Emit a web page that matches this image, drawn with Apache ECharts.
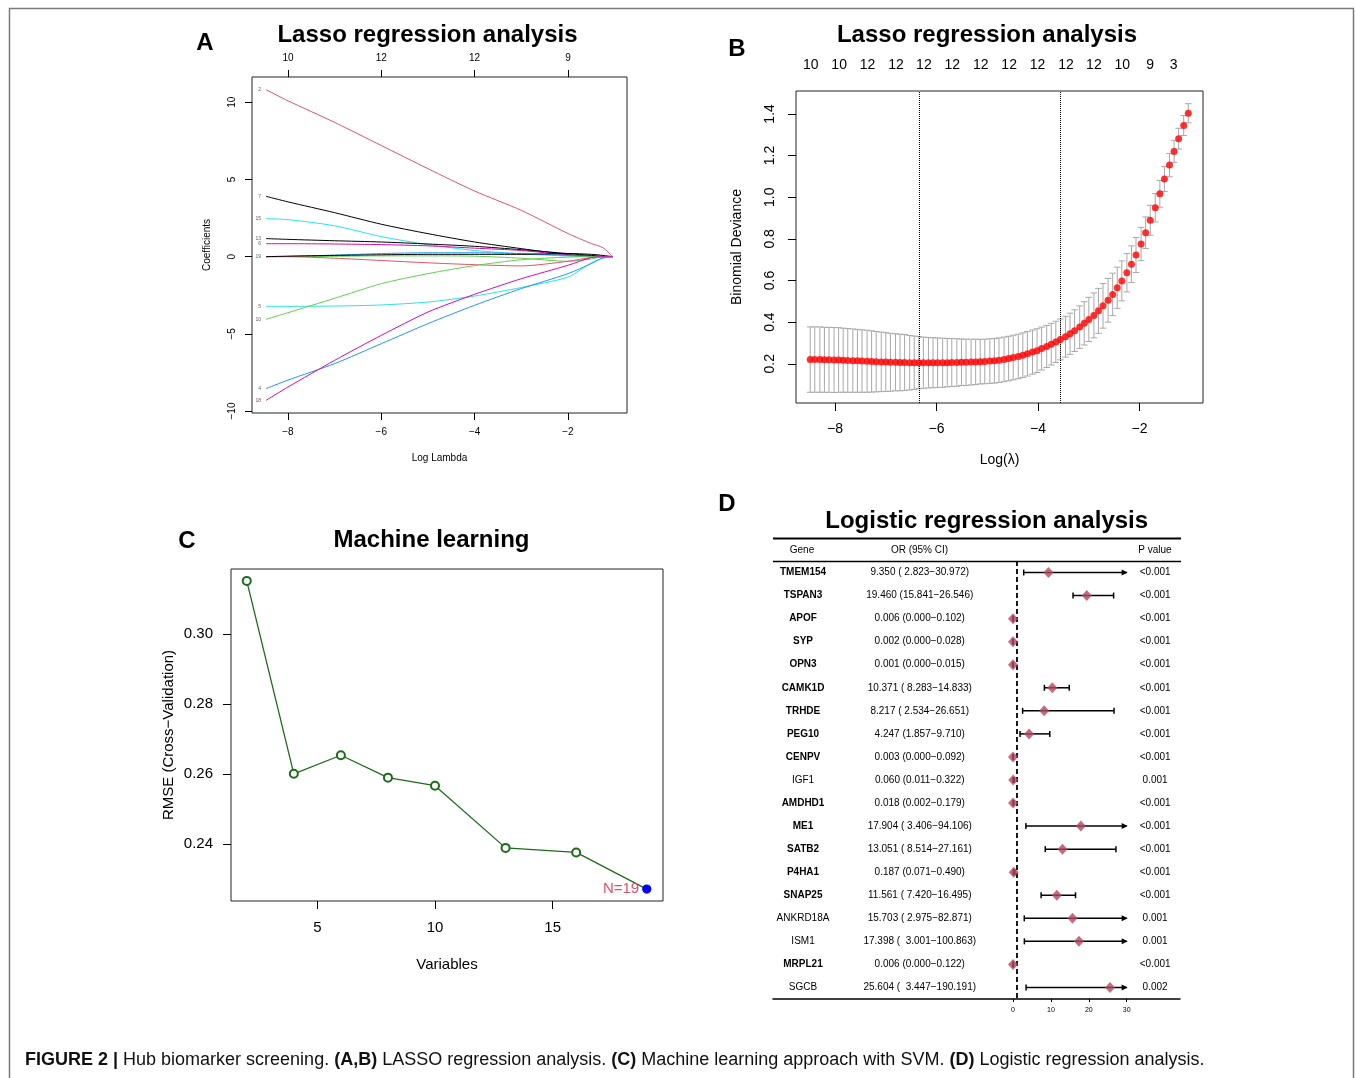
<!DOCTYPE html>
<html><head><meta charset="utf-8">
<script src="https://cdn.jsdelivr.net/npm/echarts@6/dist/echarts.min.js"></script>
<style>html,body{margin:0;padding:0;background:#fff}#c{width:1355px;height:1078px}</style>
</head><body><div id="c"></div>
<script>
// ---------- Panel A : lasso coefficient paths ----------
const lassoX   = [-8.47,-8,-7,-6,-5,-4,-3,-2,-1.5,-1.25,-1.04];
const coefV2   = [10.82,10.1,8.7,7.2,5.7,4.25,3.0,1.5,0.85,0.58,0];
const coefV7   = [3.91,3.55,2.85,2.1,1.49,0.95,0.52,0.13,0.02,0,0];
const coefV15  = [2.46,2.4,2.0,1.3,0.78,0.4,0.18,0.04,0,0,0];
const coefV13  = [1.17,1.12,1.03,0.95,0.82,0.67,0.45,0.2,0.08,0.02,0];
const coefV6   = [0.84,0.84,0.82,0.78,0.7,0.55,0.4,0.1,0,0,0];
const coefV19  = [0,0.03,0.08,0.12,0.15,0.15,0.15,0.2,0.15,0.08,0];
const coefV19b = [0,0.02,0.1,0.2,0.25,0.25,0.2,0.08,0,0,0];
const coefV19c = [0,0,0.02,0.05,0.05,0.03,-0.1,-0.3,-0.15,0,0];
const coefV19d = [0,0,-0.1,-0.25,-0.4,-0.52,-0.6,-0.3,-0.05,0,0];
const coefV5   = [-3.22,-3.22,-3.2,-3.13,-2.94,-2.55,-2.0,-1.32,-0.4,-0.1,0];
const coefV10  = [-4.06,-3.63,-2.7,-1.75,-1.1,-0.58,-0.2,-0.03,0,0,0];
const coefV4   = [-8.55,-8.0,-6.93,-5.64,-4.34,-3.15,-2.07,-1.1,-0.45,-0.07,0];
const coefV18  = [-9.31,-8.45,-6.72,-5.1,-3.59,-2.44,-1.43,-0.56,-0.06,0,0];
const lassoTopPos = [-8,-6,-4,-2];
const lassoTopLab = ['10','12','12','9'];

// ---------- Panel B : cross-validation deviance ----------
const cvLogLambda = [-8.49,-8.40,-8.30,-8.21,-8.12,-8.02,-7.93,-7.84,-7.75,-7.65,-7.56,-7.47,-7.37,-7.28,-7.19,-7.09,-7.00,-6.91,-6.81,-6.72,-6.63,-6.53,-6.44,-6.35,-6.26,-6.16,-6.07,-5.98,-5.88,-5.79,-5.70,-5.60,-5.51,-5.42,-5.32,-5.23,-5.14,-5.05,-4.95,-4.86,-4.77,-4.67,-4.58,-4.49,-4.39,-4.30,-4.21,-4.11,-4.02,-3.93,-3.83,-3.74,-3.65,-3.56,-3.46,-3.37,-3.28,-3.18,-3.09,-3.00,-2.90,-2.81,-2.72,-2.62,-2.53,-2.44,-2.35,-2.25,-2.16,-2.07,-1.97,-1.88,-1.79,-1.69,-1.60,-1.51,-1.41,-1.32,-1.23,-1.13,-1.04];
const cvMean = [0.220,0.220,0.220,0.219,0.219,0.218,0.218,0.217,0.216,0.215,0.214,0.213,0.212,0.211,0.210,0.209,0.208,0.207,0.207,0.206,0.206,0.205,0.205,0.205,0.205,0.205,0.205,0.205,0.205,0.205,0.206,0.206,0.207,0.207,0.208,0.209,0.210,0.211,0.213,0.214,0.217,0.221,0.225,0.230,0.235,0.241,0.248,0.256,0.263,0.273,0.283,0.294,0.305,0.317,0.330,0.344,0.359,0.376,0.394,0.413,0.432,0.454,0.478,0.505,0.533,0.565,0.598,0.637,0.678,0.722,0.775,0.829,0.889,0.949,1.016,1.087,1.154,1.220,1.281,1.344,1.403];
const cvSd = [0.157,0.157,0.157,0.156,0.156,0.156,0.155,0.154,0.153,0.152,0.151,0.150,0.149,0.147,0.145,0.143,0.141,0.139,0.137,0.136,0.134,0.131,0.128,0.125,0.123,0.121,0.120,0.119,0.118,0.116,0.115,0.114,0.112,0.111,0.110,0.109,0.107,0.107,0.107,0.107,0.107,0.107,0.107,0.107,0.107,0.107,0.107,0.106,0.105,0.103,0.101,0.100,0.099,0.098,0.098,0.099,0.100,0.102,0.104,0.106,0.108,0.108,0.107,0.105,0.102,0.099,0.096,0.092,0.088,0.084,0.080,0.076,0.072,0.068,0.064,0.060,0.056,0.053,0.050,0.048,0.046];
const cvLambdaMin = -6.343;
const cvLambda1se = -3.556;
const cvTopPos = [-8.48,-7.92,-7.36,-6.80,-6.25,-5.69,-5.13,-4.57,-4.01,-3.45,-2.90,-2.34,-1.79,-1.33];
const cvTopLab = ['10','10','12','12','12','12','12','12','12','12','12','10','9','3'];

// ---------- Panel C : SVM-RFE ----------
const svmVars = [2,4,6,8,10,13,16,19];
const svmRmse = [0.3153,0.2601,0.2654,0.2590,0.2567,0.2389,0.2376,0.2271];

// ---------- Panel D : logistic regression ----------
const genes = ['TMEM154','TSPAN3','APOF','SYP','OPN3','CAMK1D','TRHDE','PEG10','CENPV','IGF1','AMDHD1','ME1','SATB2','P4HA1','SNAP25','ANKRD18A','ISM1','MRPL21','SGCB'];
const orVal = [9.350,19.460,0.006,0.002,0.001,10.371,8.217,4.247,0.003,0.060,0.018,17.904,13.051,0.187,11.561,15.703,17.398,0.006,25.604];
const ciLo  = [2.823,15.841,0.000,0.000,0.000,8.283,2.534,1.857,0.000,0.011,0.002,3.406,8.514,0.071,7.420,2.975,3.001,0.000,3.447];
const ciHi  = [30.972,26.546,0.102,0.028,0.015,14.833,26.651,9.710,0.092,0.322,0.179,94.106,27.161,0.490,16.495,82.871,100.863,0.122,190.191];
const pVal  = ['<0.001','<0.001','<0.001','<0.001','<0.001','<0.001','<0.001','<0.001','<0.001','0.001','<0.001','<0.001','<0.001','<0.001','<0.001','0.001','0.001','<0.001','0.002'];
const geneBold = [1,1,1,1,1,1,1,1,1,0,1,1,1,1,1,0,0,1,0];
const forestTicks = [0,10,20,30];

// ---------- helpers ----------
const F = '"Liberation Sans", Arial, Helvetica, sans-serif';
const minus = v => (v < 0 ? '\u2212' : '') + Math.abs(v);
function nearestLabel(pos, lab, v){ let b=0; pos.forEach((p,i)=>{ if(Math.abs(p-v)<Math.abs(pos[b]-v)) b=i; }); return lab[b]; }
function orText(i){
  const lo = ciLo[i].toFixed(3), hi = ciHi[i].toFixed(3);
  return orVal[i].toFixed(3) + ' (' + lo.padStart(hi.length,' ') + '\u2212' + hi + ')';
}

const lassoPaths = [
  {lab:'2',  col:'#DF536B', y:coefV2},
  {lab:'7',  col:'#000000', y:coefV7},
  {lab:'15', col:'#28E2E5', y:coefV15},
  {lab:'13', col:'#000000', y:coefV13},
  {lab:'6',  col:'#CD0BBC', y:coefV6},
  {lab:'',   col:'#2297E6', y:coefV19b},
  {lab:'',   col:'#61D04F', y:coefV19c},
  {lab:'',   col:'#DF536B', y:coefV19d},
  {lab:'19', col:'#000000', y:coefV19},
  {lab:'5',  col:'#28E2E5', y:coefV5},
  {lab:'10', col:'#61D04F', y:coefV10},
  {lab:'4',  col:'#2297E6', y:coefV4},
  {lab:'18', col:'#CD0BBC', y:coefV18}
];

// axis indices
const AX = {aBottom:0, aTop:1, bBottom:2, bTop:3, c:4, d:5};
const AY = {a:0, b:1, c:2, d:3};

const series = [];
lassoPaths.forEach(p => {
  series.push({type:'line', xAxisIndex:AX.aBottom, yAxisIndex:AY.a, data:lassoX.map((x,i)=>[x,p.y[i]]),
    showSymbol:false, smooth:0.25, lineStyle:{color:p.col, width:1}, itemStyle:{color:p.col}, silent:true});
});
series.push({type:'scatter', xAxisIndex:AX.aBottom, yAxisIndex:AY.a, symbolSize:0,
  data: lassoPaths.filter(p=>p.lab).map(p=>[lassoX[0], p.y[0], p.lab]),
  label:{show:true, position:'left', distance:5, fontSize:5, color:'#333', fontFamily:F, formatter:d=>d.data[2]}});

// B
series.push({type:'custom', xAxisIndex:AX.bBottom, yAxisIndex:AY.b,
  data: cvLogLambda.map((x,i)=>[x, cvMean[i]-cvSd[i], cvMean[i]+cvSd[i]]),
  encode:{x:0, y:[1,2]},
  renderItem:(params, api)=>{
    const x=api.value(0), lo=api.value(1), hi=api.value(2);
    const pt=api.coord([x,hi]), pb=api.coord([x,lo]); const w=3.3;
    const st={stroke:'#A8A8A8', lineWidth:1};
    return {type:'group', children:[
      {type:'line', shape:{x1:pt[0],y1:pt[1],x2:pb[0],y2:pb[1]}, style:st},
      {type:'line', shape:{x1:pt[0]-w,y1:pt[1],x2:pt[0]+w,y2:pt[1]}, style:st},
      {type:'line', shape:{x1:pb[0]-w,y1:pb[1],x2:pb[0]+w,y2:pb[1]}, style:st}
    ]};
  }});
series.push({type:'scatter', xAxisIndex:AX.bBottom, yAxisIndex:AY.b, symbolSize:7, z:5,
  data: cvLogLambda.map((x,i)=>[x,cvMean[i]]), itemStyle:{color:'#FF0000'},
  markLine:{silent:true, symbol:['none','none'], label:{show:false},
    lineStyle:{type:'dotted', color:'#000', width:1},
    data:[{xAxis:cvLambdaMin},{xAxis:cvLambda1se}]}});

// C
series.push({type:'line', xAxisIndex:AX.c, yAxisIndex:AY.c,
  data: svmVars.map((v,i)=>{
    const last = i===svmVars.length-1;
    return last ? {value:[v,svmRmse[i]], symbol:'circle', symbolSize:8, itemStyle:{color:'#0000FF', borderColor:'#0000FF'},
       label:{show:true, position:'left', distance:3, formatter:'N=19', color:'#E0506B', fontSize:15, fontFamily:F}}
     : [v,svmRmse[i]];
  }),
  symbol:'emptyCircle', symbolSize:8, lineStyle:{color:'#1E6B1E', width:1.3},
  itemStyle:{color:'#1E6B1E', borderColor:'#1E6B1E', borderWidth:1.2}});

// D
series.push({type:'custom', xAxisIndex:AX.d, yAxisIndex:AY.d,
  data: genes.map((g,i)=>[i, ciLo[i], ciHi[i]]),
  encode:{y:0, x:[1,2]},
  renderItem:(params, api)=>{
    const r=api.value(0), lo=api.value(1), hi=api.value(2);
    const cap=30;
    const a=api.coord([lo,r]), b=api.coord([Math.min(hi,cap),r]);
    const y=a[1]; const st={stroke:'#000', lineWidth:1.5};
    const ch=[{type:'line', shape:{x1:a[0],y1:y,x2:b[0],y2:y}, style:st},
              {type:'line', shape:{x1:a[0],y1:y-3,x2:a[0],y2:y+3}, style:st}];
    if(hi>cap){ ch.push({type:'polygon', shape:{points:[[b[0]+1,y],[b[0]-5,y-3],[b[0]-5,y+3]]}, style:{fill:'#000'}}); }
    else ch.push({type:'line', shape:{x1:b[0],y1:y-3,x2:b[0],y2:y+3}, style:st});
    return {type:'group', children:ch};
  }});
series.push({type:'scatter', xAxisIndex:AX.d, yAxisIndex:AY.d, symbol:'diamond', symbolSize:[10,11], z:5,
  data: orVal.map((v,i)=>[v,i]), itemStyle:{color:'#B2475F'},
  markLine:{silent:true, symbol:['none','none'], label:{show:false},
    lineStyle:{type:[5,3], color:'#000', width:1.8}, data:[{xAxis:1}]}});
const tableCols = {gene:-55.4, or:-24.6, p:37.5};
series.push({type:'custom', xAxisIndex:AX.d, yAxisIndex:AY.d,
  data: genes.map((g,i)=>[i]), encode:{y:0},
  renderItem:(params, api)=>{
    const i=api.value(0);
    const mk=(t,xv,bold)=>{ const c=api.coord([xv,i]); return {type:'text', style:{text:t, x:c[0], y:c[1], align:'center', verticalAlign:'middle', fontSize:10, fontWeight:bold?'bold':'normal', fontFamily:F, fill:'#000'}}; };
    return {type:'group', children:[mk(genes[i],tableCols.gene,geneBold[i]), mk(orText(i),tableCols.or,false), mk(pVal[i],tableCols.p,false)]};
  }});

const boxAxis = {axisLine:{show:false, onZero:false}, splitLine:{show:false}};
const tick = (len)=>({show:true, length:len, inside:false, lineStyle:{color:'#000', width:1}});

const option = {
  animation:false,
  textStyle:{fontFamily:F},
  grid:[
    {left:252, top:77, width:375, height:336, show:true, borderColor:'#222', borderWidth:1},
    {left:796, top:91, width:407, height:312, show:true, borderColor:'#222', borderWidth:1},
    {left:231, top:569, width:432, height:332, show:true, borderColor:'#222', borderWidth:1},
    {left:773, top:561, width:407, height:438, show:false}
  ],
  xAxis:[
    {gridIndex:0, type:'value', min:-8.77, max:-0.735, position:'bottom', ...boxAxis,
      axisTick:{...tick(7), customValues:lassoTopPos},
      axisLabel:{customValues:lassoTopPos, fontSize:10, margin:14, color:'#000', formatter:minus},
      name:'Log Lambda', nameLocation:'middle', nameGap:40, nameTextStyle:{fontSize:10, color:'#000'}},
    {gridIndex:0, type:'value', min:-8.77, max:-0.735, position:'top', ...boxAxis,
      axisTick:{...tick(7), customValues:lassoTopPos},
      axisLabel:{customValues:lassoTopPos, fontSize:10, margin:14, color:'#000', formatter:v=>nearestLabel(lassoTopPos,lassoTopLab,v)}},
    {gridIndex:1, type:'value', min:-8.77, max:-0.75, position:'bottom', ...boxAxis,
      axisTick:{...tick(8), customValues:[-8,-6,-4,-2]},
      axisLabel:{customValues:[-8,-6,-4,-2], fontSize:14, margin:19, color:'#000', formatter:minus},
      name:'Log(\u03bb)', nameLocation:'middle', nameGap:50, nameTextStyle:{fontSize:14, color:'#000'}},
    {gridIndex:1, type:'value', min:-8.77, max:-0.75, position:'top', ...boxAxis,
      axisTick:{show:false},
      axisLabel:{customValues:cvTopPos, fontSize:14, margin:19, color:'#000', formatter:v=>nearestLabel(cvTopPos,cvTopLab,v)}},
    {gridIndex:2, type:'value', min:1.33, max:19.69, position:'bottom', ...boxAxis,
      axisTick:{...tick(8), customValues:[5,10,15]},
      axisLabel:{customValues:[5,10,15], fontSize:15, margin:19, color:'#000'},
      name:'Variables', nameLocation:'middle', nameGap:56, nameTextStyle:{fontSize:15, color:'#000'}},
    {gridIndex:3, type:'value', min:-63.32, max:44.06, position:'bottom', splitLine:{show:false},
      axisLine:{show:true, onZero:false, lineStyle:{color:'#000', width:1.5}},
      axisTick:{show:true, length:3, lineStyle:{color:'#000'}, customValues:forestTicks},
      axisLabel:{customValues:forestTicks, fontSize:7, margin:8, color:'#000'}}
  ],
  yAxis:[
    {gridIndex:0, type:'value', min:-10.13, max:11.64, ...boxAxis,
      axisTick:{...tick(7), customValues:[-10,-5,0,5,10]},
      axisLabel:{customValues:[-10,-5,0,5,10], rotate:90, fontSize:10, margin:15, color:'#000', formatter:minus},
      name:'Coefficients', nameLocation:'middle', nameGap:40, nameTextStyle:{fontSize:10, color:'#000'}},
    {gridIndex:1, type:'value', min:0.0115, max:1.51, ...boxAxis,
      axisTick:{...tick(8), customValues:[0.2,0.4,0.6,0.8,1.0,1.2,1.4]},
      axisLabel:{customValues:[0.2,0.4,0.6,0.8,1.0,1.2,1.4], rotate:90, fontSize:14, margin:19, color:'#000', formatter:v=>v.toFixed(1)},
      name:'Binomial Deviance', nameLocation:'middle', nameGap:52, nameTextStyle:{fontSize:14, color:'#000'}},
    {gridIndex:2, type:'value', min:0.2237, max:0.3187, ...boxAxis,
      axisTick:{...tick(8), customValues:[0.24,0.26,0.28,0.30]},
      axisLabel:{customValues:[0.24,0.26,0.28,0.30], fontSize:15, margin:18, color:'#000', formatter:v=>v.toFixed(2)},
      name:'RMSE (Cross\u2212Validation)', nameLocation:'middle', nameGap:55, nameTextStyle:{fontSize:15, color:'#000'}},
    {gridIndex:3, type:'category', data:genes, inverse:true, show:false}
  ],
  series:series,
  graphic:[
    {type:'rect', shape:{x:9.5, y:8.5, width:1344, height:1100}, style:{fill:'none', stroke:'#7a7a7a', lineWidth:1.5}, silent:true},
    {type:'text', style:{text:'Lasso regression analysis', x:427.5, y:35, align:'center', verticalAlign:'middle', fontSize:24, fontWeight:'bold', fontFamily:F, fill:'#000'}},
    {type:'text', style:{text:'Lasso regression analysis', x:987, y:35, align:'center', verticalAlign:'middle', fontSize:24, fontWeight:'bold', fontFamily:F, fill:'#000'}},
    {type:'text', style:{text:'Machine learning', x:431.5, y:540, align:'center', verticalAlign:'middle', fontSize:24, fontWeight:'bold', fontFamily:F, fill:'#000'}},
    {type:'text', style:{text:'Logistic regression analysis', x:986.7, y:521.5, align:'center', verticalAlign:'middle', fontSize:24, fontWeight:'bold', fontFamily:F, fill:'#000'}},
    {type:'text', style:{text:'A', x:205, y:43, align:'center', verticalAlign:'middle', fontSize:24, fontWeight:'bold', fontFamily:F, fill:'#000'}},
    {type:'text', style:{text:'B', x:737, y:49, align:'center', verticalAlign:'middle', fontSize:24, fontWeight:'bold', fontFamily:F, fill:'#000'}},
    {type:'text', style:{text:'C', x:187, y:541, align:'center', verticalAlign:'middle', fontSize:24, fontWeight:'bold', fontFamily:F, fill:'#000'}},
    {type:'text', style:{text:'D', x:727, y:504, align:'center', verticalAlign:'middle', fontSize:24, fontWeight:'bold', fontFamily:F, fill:'#000'}},
    {type:'line', shape:{x1:773, y1:538.5, x2:1181, y2:538.5}, style:{stroke:'#000', lineWidth:2}},
    {type:'line', shape:{x1:773, y1:561.5, x2:1181, y2:561.5}, style:{stroke:'#000', lineWidth:1.5}},
    {type:'text', style:{text:'Gene', x:802, y:550, align:'center', verticalAlign:'middle', fontSize:10, fontFamily:F, fill:'#000'}},
    {type:'text', style:{text:'OR (95% CI)', x:919.5, y:550, align:'center', verticalAlign:'middle', fontSize:10, fontFamily:F, fill:'#000'}},
    {type:'text', style:{text:'P value', x:1155, y:550, align:'center', verticalAlign:'middle', fontSize:10, fontFamily:F, fill:'#000'}},
    {type:'text', style:{text:'{b|FIGURE 2 |} Hub biomarker screening. {b|(A,B)} LASSO regression analysis. {b|(C)} Machine learning approach with SVM. {b|(D)} Logistic regression analysis.',
      x:25, y:1060, align:'left', verticalAlign:'middle', fontSize:18, fontFamily:F, fill:'#111',
      rich:{b:{fontWeight:'bold', fontSize:18, fontFamily:F, fill:'#111'}}}}
  ]
};
const chart = echarts.init(document.getElementById('c'), null, {renderer:'canvas'});
chart.setOption(option);
</script></body></html>
